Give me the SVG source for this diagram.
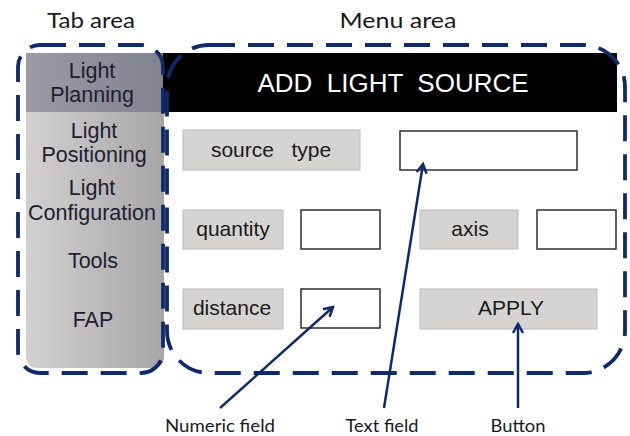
<svg xmlns="http://www.w3.org/2000/svg" width="630" height="436" viewBox="0 0 630 436">
  <defs>
    <linearGradient id="tabGrad" x1="0" y1="0" x2="1" y2="0">
      <stop offset="0" stop-color="#d2d0d1"/>
      <stop offset="1" stop-color="#a7a5a6"/>
    </linearGradient>
    <linearGradient id="tabTopGrad" x1="0" y1="0" x2="1" y2="0">
      <stop offset="0" stop-color="#9b9aa5"/>
      <stop offset="1" stop-color="#82818e"/>
    </linearGradient>
    <marker id="arrow" viewBox="0 0 12 12" refX="10" refY="6" markerWidth="12" markerHeight="12" markerUnits="userSpaceOnUse" orient="auto">
      <path d="M1,1 L10,6 L1,11" fill="none" stroke="#0e2a6c" stroke-width="2.5"/>
    </marker>
  </defs>
  <style>
    .title { font-family: Lato, "Open Sans", sans-serif; font-size: 21px; fill: #1a1a1a; text-anchor: middle; }
    .tab { font-family: "Liberation Sans", Arial, sans-serif; font-size: 21.5px; fill: #1e1e30; text-anchor: middle; }
    .lbl { fill: #d6d3d3; stroke: #bdbaba; stroke-width: 1; }
    .lbltxt { font-family: "Liberation Sans", Arial, sans-serif; font-size: 21px; fill: #1a1a1a; text-anchor: middle; white-space: pre; }
    .field { fill: #ffffff; stroke: #2e2e2e; stroke-width: 1.5; }
    .dash { fill: none; stroke: #0e2a6c; stroke-width: 3.8; stroke-dasharray: 26 13; }
    .conn { stroke: #0e2a6c; stroke-width: 2.5; fill: none; marker-end: url(#arrow); }
    .cap { font-family: Lato, "Open Sans", sans-serif; font-size: 17.5px; fill: #1a1a1a; text-anchor: middle; }
  </style>

  <rect width="630" height="436" fill="#ffffff"/>

  <!-- area titles -->
  <text class="title" x="91" y="28" textLength="88" lengthAdjust="spacingAndGlyphs">Tab area</text>
  <text class="title" x="398" y="28" textLength="117" lengthAdjust="spacingAndGlyphs">Menu area</text>

  <!-- tab panel -->
  <g id="tab-panel">
    <path d="M26,53 H164 V356 Q164,368 152,368 H38 Q26,368 26,356 Z" fill="url(#tabGrad)"/>
    <rect x="26" y="53" width="138" height="59" fill="url(#tabTopGrad)"/>
  </g>
  <g id="tab-light-planning">
    <text class="tab" x="92" y="78">Light</text>
    <text class="tab" x="92" y="102">Planning</text>
  </g>
  <g id="tab-light-positioning">
    <text class="tab" x="94" y="138">Light</text>
    <text class="tab" x="94" y="162">Positioning</text>
  </g>
  <g id="tab-light-configuration">
    <text class="tab" x="92" y="195">Light</text>
    <text class="tab" x="92" y="220">Configuration</text>
  </g>
  <g id="tab-tools">
    <text class="tab" x="93" y="268">Tools</text>
  </g>
  <g id="tab-fap">
    <text class="tab" x="93" y="327">FAP</text>
  </g>

  <!-- menu header -->
  <g id="menu-header">
    <rect x="163" y="53" width="454" height="59" fill="#000000"/>
    <text x="393" y="92" font-family="'Liberation Sans', Arial, sans-serif" font-size="26px" fill="#ffffff" text-anchor="middle" style="white-space:pre">ADD  LIGHT  SOURCE</text>
  </g>

  <!-- row 1 -->
  <g id="source-type">
    <rect class="lbl" x="183" y="130" width="177" height="40"/>
    <text class="lbltxt" x="271" y="157">source   type</text>
  </g>
  <g id="source-type-field">
    <rect class="field" x="400" y="131" width="177" height="39"/>
  </g>

  <!-- row 2 -->
  <g id="quantity">
    <rect class="lbl" x="183" y="210" width="100" height="39"/>
    <text class="lbltxt" x="233" y="236">quantity</text>
  </g>
  <g id="quantity-field">
    <rect class="field" x="301" y="210" width="79" height="39"/>
  </g>
  <g id="axis">
    <rect class="lbl" x="420" y="210" width="98" height="39"/>
    <text class="lbltxt" x="470" y="236">axis</text>
  </g>
  <g id="axis-field">
    <rect class="field" x="537" y="210" width="79" height="39"/>
  </g>

  <!-- row 3 -->
  <g id="distance">
    <rect class="lbl" x="183" y="289" width="100" height="40"/>
    <text class="lbltxt" x="232" y="315">distance</text>
  </g>
  <g id="distance-field">
    <rect class="field" x="301" y="289" width="79" height="39"/>
  </g>
  <g id="apply">
    <rect class="lbl" x="420" y="289" width="177" height="40"/>
    <text class="lbltxt" x="511" y="315">APPLY</text>
  </g>

  <!-- dashed area outlines -->
  <g id="tab-area">
    <rect class="dash" x="18" y="45" width="145" height="328" rx="22" ry="22"/>
  </g>
  <g id="menu-area">
    <rect class="dash" x="167" y="45" width="458" height="328" rx="42" ry="42"/>
  </g>

  <!-- connectors -->
  <g id="connectors">
    <line class="conn" x1="220" y1="408" x2="333" y2="307"/>
    <line class="conn" x1="384" y1="408" x2="423" y2="164"/>
    <line class="conn" x1="518" y1="408" x2="518" y2="324"/>
  </g>

  <!-- captions -->
  <g id="captions">
    <text class="cap" x="220" y="432" textLength="110" lengthAdjust="spacingAndGlyphs">Numeric field</text>
    <text class="cap" x="382" y="432" textLength="73" lengthAdjust="spacingAndGlyphs">Text field</text>
    <text class="cap" x="518" y="432" textLength="55" lengthAdjust="spacingAndGlyphs">Button</text>
  </g>
</svg>
